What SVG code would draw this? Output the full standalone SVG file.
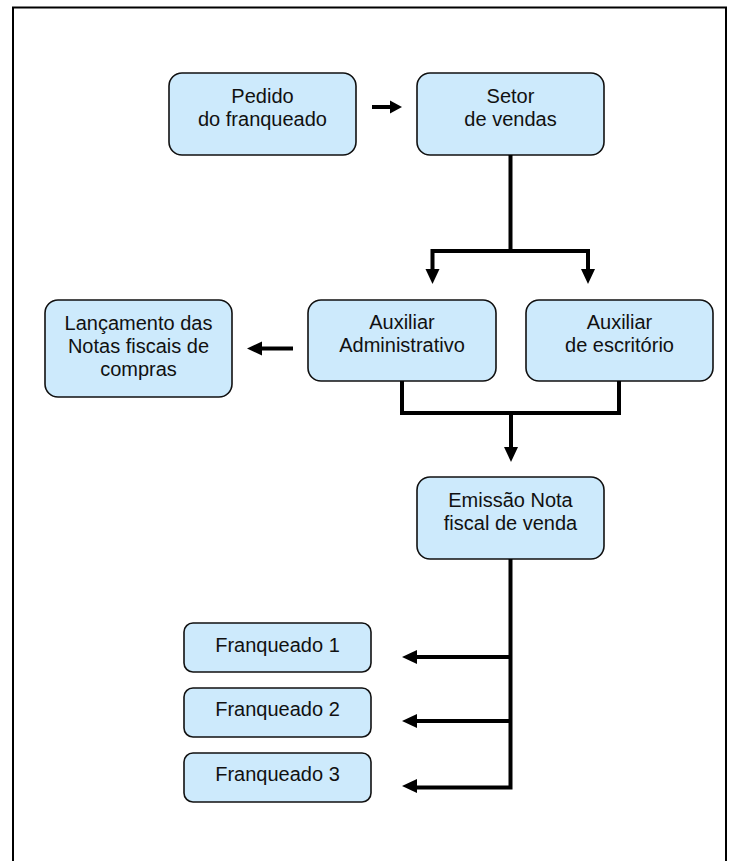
<svg xmlns="http://www.w3.org/2000/svg" width="730" height="861" viewBox="0 0 730 861">
  <style>
    .box { fill: #cdeafc; stroke: #111; stroke-width: 1.6; }
    .lbl { font-family: "Liberation Sans", Arial, sans-serif; font-size: 20px; fill: #111; text-anchor: middle; }
    .wire { fill: none; stroke: #000; stroke-width: 4; stroke-linejoin: miter; stroke-linecap: butt; }
    .head { fill: #000; }
    .frame { fill: none; stroke: #000; stroke-width: 2; }
  </style>

  <rect width="730" height="861" fill="#fff"/>
  <!-- page frame, open at the bottom -->
  <path class="frame" d="M13 861 V7.5 H726 V861"/>

  <g id="pedido">
    <rect class="box" x="169" y="73" width="187" height="82" rx="13"/>
    <text class="lbl" x="262.5" y="103">Pedido</text>
    <text class="lbl" x="262.5" y="126">do franqueado</text>
  </g>

  <g id="setor">
    <rect class="box" x="417" y="73" width="187" height="82" rx="13"/>
    <text class="lbl" x="510.5" y="103">Setor</text>
    <text class="lbl" x="510.5" y="126">de vendas</text>
  </g>

  <g id="lancamento">
    <rect class="box" x="45" y="300" width="187" height="97" rx="13"/>
    <text class="lbl" x="138.5" y="330">Lançamento das</text>
    <text class="lbl" x="138.5" y="353">Notas fiscais de</text>
    <text class="lbl" x="138.5" y="376">compras</text>
  </g>

  <g id="aux-adm">
    <rect class="box" x="308" y="300" width="188" height="81" rx="13"/>
    <text class="lbl" x="402" y="329">Auxiliar</text>
    <text class="lbl" x="402" y="352">Administrativo</text>
  </g>

  <g id="aux-esc">
    <rect class="box" x="526" y="300" width="187" height="81" rx="13"/>
    <text class="lbl" x="619.5" y="329">Auxiliar</text>
    <text class="lbl" x="619.5" y="352">de escritório</text>
  </g>

  <g id="emissao">
    <rect class="box" x="417" y="477" width="187" height="82" rx="13"/>
    <text class="lbl" x="510.5" y="507">Emissão Nota</text>
    <text class="lbl" x="510.5" y="530">fiscal de venda</text>
  </g>

  <g id="franqueado-1">
    <rect class="box" x="184" y="623" width="187" height="49" rx="9"/>
    <text class="lbl" x="277.5" y="652">Franqueado 1</text>
  </g>

  <g id="franqueado-2">
    <rect class="box" x="184" y="688" width="187" height="49" rx="9"/>
    <text class="lbl" x="277.5" y="716">Franqueado 2</text>
  </g>

  <g id="franqueado-3">
    <rect class="box" x="184" y="753" width="187" height="49" rx="9"/>
    <text class="lbl" x="277.5" y="781">Franqueado 3</text>
  </g>

  <g id="connectors">
    <!-- pedido -> setor -->
    <path class="wire" d="M372 107 H391"/>
    <path class="head" d="M402 107 L390 100.5 V113.5 Z"/>

    <!-- setor splits to both assistants -->
    <path class="wire" d="M510.5 155 V251 M432.5 270 V251 H588 V270"/>
    <path class="head" d="M432.5 284 L425.5 269 H439.5 Z"/>
    <path class="head" d="M588 284 L581 269 H595 Z"/>

    <!-- administrative assistant -> purchase invoices -->
    <path class="wire" d="M293 348.5 H261"/>
    <path class="head" d="M247 348.5 L262 341.5 V355.5 Z"/>

    <!-- both assistants merge into invoice issuing -->
    <path class="wire" d="M402 381 V413 H619 V381 M511 413 V447"/>
    <path class="head" d="M511 462 L504 447 H518 Z"/>

    <!-- invoice issuing fans out to franchisees -->
    <path class="wire" d="M510.5 559 V787.5 H416 M510.5 657 H416 M510.5 721 H416"/>
    <path class="head" d="M402 657 L417 650 V664 Z"/>
    <path class="head" d="M402 721 L417 714 V728 Z"/>
    <path class="head" d="M402 786 L417 779 V793 Z"/>
  </g>
</svg>
